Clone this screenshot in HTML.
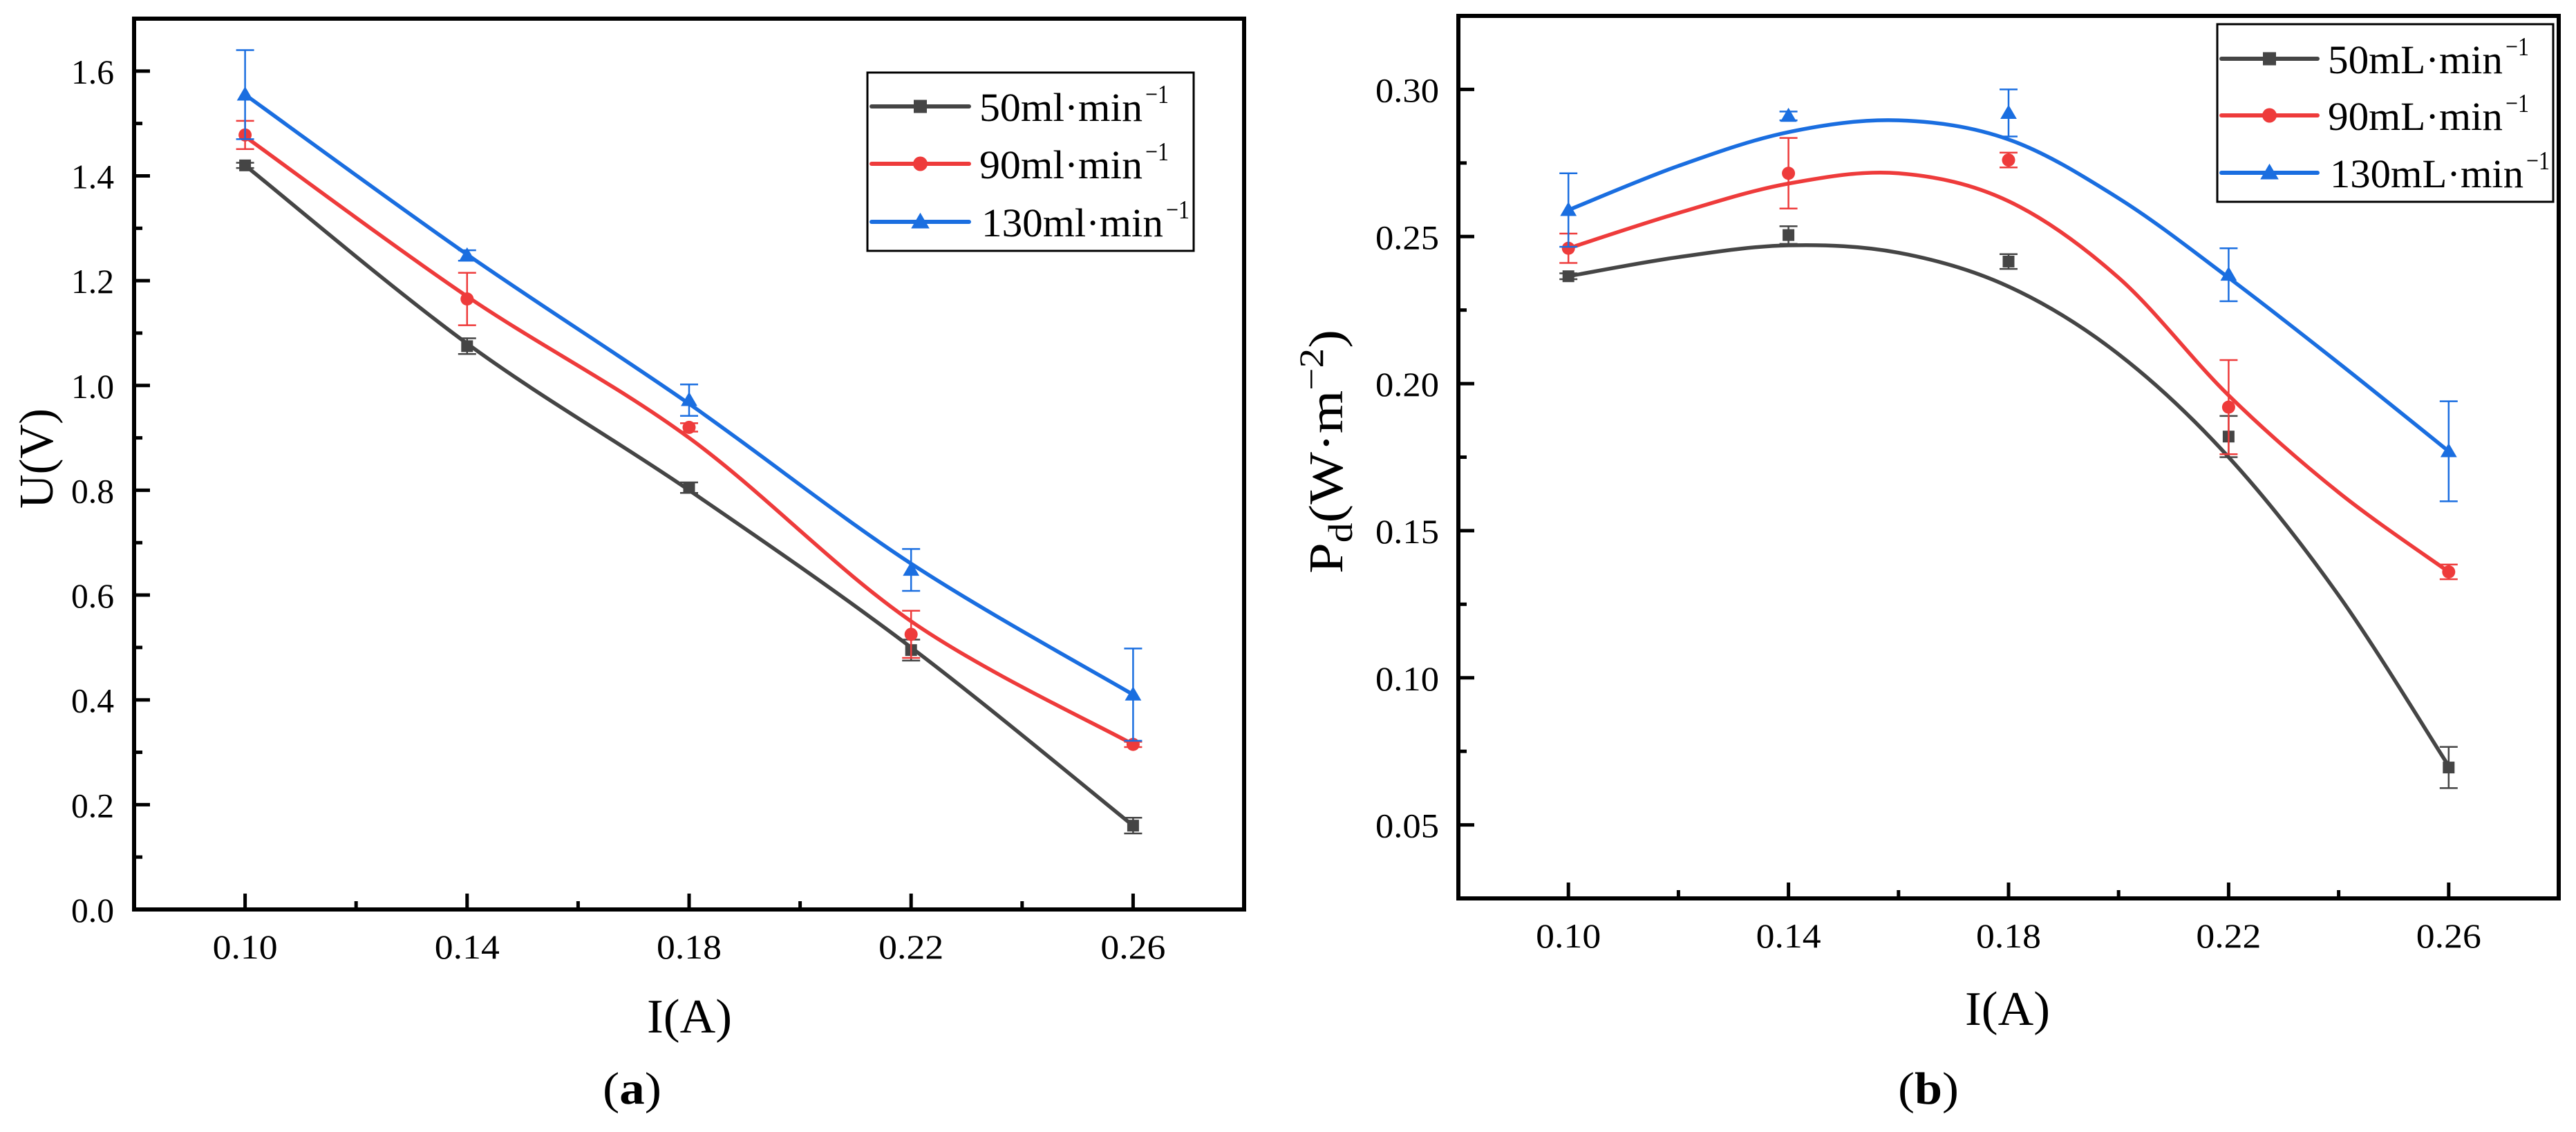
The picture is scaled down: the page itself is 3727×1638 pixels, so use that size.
<!DOCTYPE html>
<html><head><meta charset="utf-8"><style>
html,body{margin:0;padding:0;background:#fff;}
svg, svg text{font-family:"Liberation Serif","Times New Roman",serif;}
</style></head><body>
<svg id="fig" width="3727" height="1633" viewBox="0 0 3727 1633" xmlns="http://www.w3.org/2000/svg"></svg>
<script>
// ---- data: panel (a) U vs I ----
const xCats = [0.10, 0.14, 0.18, 0.22, 0.26];
const xTickLabels = ["0.10","0.14","0.18","0.22","0.26"];
const aU50 = [1.42, 1.075, 0.805, 0.495, 0.16];
const aU90 = [1.478, 1.165, 0.92, 0.525, 0.315];
const aU130 = [1.555, 1.248, 0.972, 0.648, 0.41];
const aE50 = [0.005, 0.015, 0.01, 0.02, 0.015];
const aE90 = [0.027, 0.05, 0.008, 0.045, 0.005];
const aE130 = [0.085, 0.01, 0.03, 0.04, 0.088];
const aFit50 = [1.42, 1.08, 0.80, 0.50, 0.16];
const aFit90 = [1.475, 1.17, 0.90, 0.55, 0.315];
const aFit130 = [1.555, 1.25, 0.965, 0.66, 0.41];
const aYTicks = [0.0,0.2,0.4,0.6,0.8,1.0,1.2,1.4,1.6];
const aYTickLabels = ["0.0","0.2","0.4","0.6","0.8","1.0","1.2","1.4","1.6"];
// ---- data: panel (b) Pd vs I ----
const bP50 = [0.2365, 0.2505, 0.2415, 0.182, 0.0695];
const bP90 = [0.246, 0.2715, 0.276, 0.192, 0.136];
const bP130 = [0.259, 0.291, 0.292, 0.237, 0.177];
const bE50 = [0.001, 0.003, 0.0025, 0.007, 0.007];
const bE90 = [0.005, 0.012, 0.0025, 0.016, 0.0025];
const bE130 = [0.0125, 0.0015, 0.008, 0.009, 0.017];
const fitX = [0.10,0.12,0.14,0.16,0.18,0.20,0.22,0.24,0.26];
const bFit50 = [0.2365,0.243,0.247,0.2445,0.233,0.210,0.175,0.128,0.07];
const bFit90 = [0.246,0.258,0.268,0.2715,0.262,0.236,0.196,0.163,0.136];
const bFit130 = [0.259,0.274,0.2855,0.2895,0.283,0.263,0.236,0.207,0.177];
const bYTicks = [0.05,0.10,0.15,0.20,0.25,0.30];
const bYTickLabels = ["0.05","0.10","0.15","0.20","0.25","0.30"];

const NS="http://www.w3.org/2000/svg";
const FF="'Liberation Serif', 'Times New Roman', serif";
const svg=document.getElementById('fig');
function mk(tag,attrs,parent){const e=document.createElementNS(NS,tag);for(const k in attrs)e.setAttribute(k,attrs[k]);if(tag==='text'){e.setAttribute('font-family',FF);if(attrs.textLength)e.setAttribute('lengthAdjust','spacingAndGlyphs');}(parent||svg).appendChild(e);return e;}
const COL={k:"#454545",r:"#ee3b3b",b:"#1a6ee0"};

function smooth(pts){let d="M"+pts[0][0]+","+pts[0][1];for(let i=0;i<pts.length-1;i++){const p0=pts[i-1]||pts[i],p1=pts[i],p2=pts[i+1],p3=pts[i+2]||p2;
const c1=[p1[0]+(p2[0]-p0[0])/6,p1[1]+(p2[1]-p0[1])/6],c2=[p2[0]-(p3[0]-p1[0])/6,p2[1]-(p3[1]-p1[1])/6];d+=" C"+c1+" "+c2+" "+p2;}return d;}

function marker(g,shape,cx,cy,col,s){
  let m;
  if(shape==='sq') m=mk('rect',{x:cx-s/2,y:cy-s/2,width:s,height:s,fill:col},g);
  else if(shape==='ci') m=mk('circle',{cx:cx,cy:cy,r:s/2+1,fill:col},g);
  else m=mk('polygon',{points:`${cx},${cy-s*0.7} ${cx-s*0.7},${cy+s*0.5} ${cx+s*0.7},${cy+s*0.5}`,fill:col},g);
  return m;
}

function panel(o){
  const X=v=>o.x0+(v-o.xmin)/(o.xmax-o.xmin)*(o.x1-o.x0);
  const Y=v=>o.y1-(v-o.ymin)/(o.ymax-o.ymin)*(o.y1-o.y0);
  const g=mk('g',{});
  
  
  const tg=mk('g',{stroke:"#000","stroke-width":5},g);
  
  
  for(let v=o.xmin+0.02;v<o.xmax-0.001;v+=0.02){const major=xCats.some(c=>Math.abs(c-v)<1e-6);
    mk('line',{x1:X(v),x2:X(v),y1:o.y1,y2:o.y1-(major?23:12)},tg);}
  xCats.forEach((c,i)=>{const t=mk('text',{x:X(c),y:o.y1+71,"font-size":50,"text-anchor":"middle",textLength:94},g);t.textContent=xTickLabels[i];
    
    });
  const yg=mk('g',{stroke:"#000","stroke-width":5},g);
  
  
  o.yTicks.forEach((v,i)=>{mk('line',{x1:o.x0,x2:o.x0+23,y1:Y(v),y2:Y(v)},yg);
    const mv=v+o.ystep/2; if(mv<o.ymax) mk('line',{x1:o.x0,x2:o.x0+12,y1:Y(mv),y2:Y(mv)},yg);
    if(i===0){const lv=v-o.ystep/2; if(lv>o.ymin) mk('line',{x1:o.x0,x2:o.x0+12,y1:Y(lv),y2:Y(lv)},yg);}
    const t=mk('text',{x:o.labR-o.labW,y:Y(v)+18,"font-size":50,textLength:o.labW},g);t.textContent=o.yLabels[i];
    
    });
  o.series.forEach(s=>{
    const sg=mk('g',{},g);
    
    
    const fp=s.fx.map((x,i)=>[X(x),Y(s.fit[i])]);
    const p=mk('path',{d:smooth(fp),fill:"none",stroke:s.col,"stroke-width":5.5},sg);
    
    
    xCats.forEach((c,i)=>{
      const cx=X(c),hi=Y(s.v[i]+s.e[i]),lo=Y(s.v[i]-s.e[i]);
      const eb=mk('path',{d:`M${cx},${hi}V${lo}M${cx-13},${hi}H${cx+13}M${cx-13},${lo}H${cx+13}`,stroke:s.col,"stroke-width":2.5,fill:"none"},sg);
      
      
      const m=marker(sg,s.shape,cx,Y(s.v[i]),s.col,17);
      
      
    });
  });
  const fr=mk('rect',{x:o.x0,y:o.y0,width:o.x1-o.x0,height:o.y1-o.y0,fill:"none",stroke:"#000","stroke-width":6},g);
  
  
  const L=o.leg;const lg=mk('g',{},g);
  
  
  mk('rect',{x:L.x0,y:L.y0,width:L.x1-L.x0,height:L.y1-L.y0,fill:"#fff",stroke:"#000","stroke-width":3},lg);
  o.series.forEach((s,i)=>{const y=L.rows[i];const eg=mk('g',{},lg);
    
    
    mk('line',{x1:L.lx0,x2:L.lx1,y1:y,y2:y,stroke:s.col,"stroke-width":6,"stroke-linecap":"round"},eg);
    marker(eg,s.shape,(L.lx0+L.lx1)/2,y,s.col,19);
    const tx=L.tx+(i===2?3:0);
    const t=mk('text',{x:tx,y:y+21,"font-size":58,textLength:L.tw[i]},eg);
    t.textContent=s.label;
    const sp=mk('text',{x:tx+L.tw[i]+4,y:y-5,"font-size":38,textLength:34},eg);
    sp.textContent='−1';
  });
  return {X,Y};
}

panel({name:'panel-a',x0:194,x1:1800,y0:27,y1:1316,xmin:0.08,xmax:0.28,ymin:0,ymax:1.7,ystep:0.2,
  yTicks:aYTicks,yLabels:aYTickLabels,labR:165,labW:62,
  series:[
   {name:'series-50ml',col:COL.k,shape:'sq',v:aU50,e:aE50,fx:xCats,fit:aFit50,label:'50ml·min'},
   {name:'series-90ml',col:COL.r,shape:'ci',v:aU90,e:aE90,fx:xCats,fit:aFit90,label:'90ml·min'},
   {name:'series-130ml',col:COL.b,shape:'tr',v:aU130,e:aE130,fx:xCats,fit:aFit130,label:'130ml·min'}],
  leg:{x0:1255,x1:1727,y0:105,y1:363,lx0:1261,lx1:1402,tx:1417,tw:[236,236,263],rows:[154,237,321]}});

panel({name:'panel-b',x0:2110,x1:3702,y0:23,y1:1300,xmin:0.08,xmax:0.28,ymin:0.025,ymax:0.325,ystep:0.05,
  yTicks:bYTicks,yLabels:bYTickLabels,labR:2082,labW:92,
  series:[
   {name:'series-50mL',col:COL.k,shape:'sq',v:bP50,e:bE50,fx:fitX,fit:bFit50,label:'50mL·min'},
   {name:'series-90mL',col:COL.r,shape:'ci',v:bP90,e:bE90,fx:fitX,fit:bFit90,label:'90mL·min'},
   {name:'series-130mL',col:COL.b,shape:'tr',v:bP130,e:bE130,fx:fitX,fit:bFit130,label:'130mL·min'}],
  leg:{x0:3208,x1:3694,y0:35,y1:292,lx0:3214,lx1:3353,tx:3368,tw:[253,253,280],rows:[85,167,250]}});

function txt(attrs,html,name){const t=mk('text',attrs);t.innerHTML=html;
  
  }
txt({x:936,y:1494,"font-size":70,textLength:123},'I(A)','x-axis-title-a');
txt({x:2843,y:1483,"font-size":70,textLength:123},'I(A)','x-axis-title-b');
txt({x:-72,y:0,"font-size":70,textLength:145,transform:"translate(76,664) rotate(-90)"},'U(V)','y-axis-title-a');
txt({x:-177,y:0,"font-size":70,textLength:353,transform:"translate(1942,653) rotate(-90)"},'P<tspan dy="14" font-size="50">d</tspan><tspan dy="-14">(W·m</tspan><tspan dy="-28" font-size="50">−2</tspan><tspan dy="28">)</tspan>','y-axis-title-b');
txt({x:872,y:1597,"font-size":66,textLength:85},'(<tspan font-weight="bold">a</tspan>)','panel-label-a');
txt({x:2746,y:1597,"font-size":66,textLength:88},'(<tspan font-weight="bold">b</tspan>)','panel-label-b');
</script>
</body></html>
